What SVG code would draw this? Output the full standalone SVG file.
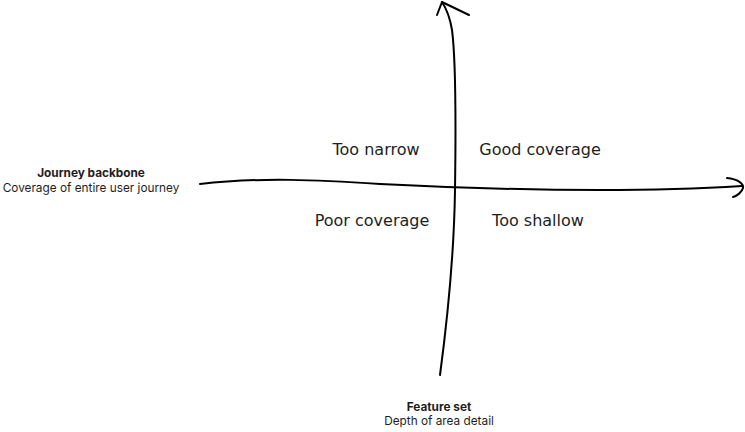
<svg xmlns="http://www.w3.org/2000/svg" width="745" height="432" viewBox="0 0 745 432">
<style>
.q{font-family:"DejaVu Sans","Noto Sans",sans-serif;font-size:16px;fill:#1e1e1e;text-anchor:middle}
.t{font-family:Inter,"Liberation Sans",sans-serif;font-size:11.8px;fill:#1e1e1e;text-anchor:middle}
.b{font-weight:700}
.ln{fill:none;stroke:#000;stroke-width:2;stroke-linecap:round;stroke-linejoin:round}
</style>
<rect width="745" height="432" fill="#fff"/>
<g id="connectors">
<path class="ln" d="M440,375 C446,330 454,260 455,190 C456,120 456,60 452,30 C450,18 446,8 442,2"/>
<path class="ln" d="M437,15 L442,2 L469,15"/>
<path class="ln" d="M200,184 C260,177 320,180 380,184 C460,188 540,190 600,190 C660,190 710,188 742,186"/>
<path class="ln" d="M727,178 C738,179 744,184 743,188 C742,192 737,196 733,197"/>
</g>
<g id="quadrant-too-narrow"><text class="q" x="376" y="155">Too narrow</text></g>
<g id="quadrant-good-coverage"><text class="q" x="540" y="155">Good coverage</text></g>
<g id="quadrant-poor-coverage"><text class="q" x="372" y="226">Poor coverage</text></g>
<g id="quadrant-too-shallow"><text class="q" x="538" y="226">Too shallow</text></g>
<g id="axis-journey-backbone">
<text class="t b" x="91" y="177">Journey backbone</text>
<text class="t" x="91" y="192">Coverage of entire user journey</text>
</g>
<g id="axis-feature-set">
<text class="t b" x="439" y="411">Feature set</text>
<text class="t" x="439" y="425">Depth of area detail</text>
</g>
</svg>
